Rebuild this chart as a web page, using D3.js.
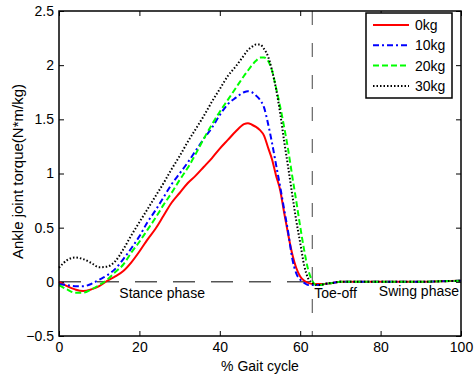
<!DOCTYPE html>
<html>
<head>
<meta charset="utf-8">
<script src="https://cdn.jsdelivr.net/npm/d3@7"></script>
<style>
    body { margin: 0; background: #fff; }
    text { font-family: "Liberation Sans", Arial, sans-serif; }
</style>
</head>
<body>
<script>
// % gait cycle sample points
var gaitPct = [0, 2, 4, 6, 8, 10, 12, 14, 16, 18, 20, 22, 24, 26, 28, 30, 32, 34, 36, 38, 40,
    42, 44, 46, 47, 48, 49, 50, 51, 52, 53, 54, 55, 56, 57, 58, 59, 60, 61, 62, 63, 64, 65, 66,
    68, 70, 75, 80, 85, 90, 95, 100];

var torque0kg = [0, -0.04, -0.07, -0.085, -0.07, -0.04, 0.01, 0.05, 0.10, 0.18, 0.28, 0.39, 0.49,
    0.61, 0.73, 0.82, 0.91, 0.98, 1.06, 1.14, 1.23, 1.31, 1.39, 1.455, 1.465, 1.45, 1.43, 1.40,
    1.35, 1.24, 1.13, 0.98, 0.85, 0.64, 0.44, 0.26, 0.13, 0.05, 0.01, -0.01, -0.02, -0.02, -0.02,
    -0.02, -0.01, 0, 0, 0, 0, 0, 0.005, 0.01];

var torque10kg = [-0.02, -0.03, -0.04, -0.04, -0.02, 0.02, 0.06, 0.12, 0.21, 0.31, 0.42, 0.55, 0.66,
    0.78, 0.90, 1.00, 1.10, 1.21, 1.32, 1.42, 1.54, 1.64, 1.70, 1.75, 1.76, 1.75, 1.72, 1.68,
    1.61, 1.46, 1.28, 1.08, 0.88, 0.67, 0.46, 0.22, 0.08, 0.02, -0.01, -0.03, -0.03, -0.03, -0.03,
    -0.02, -0.01, 0, 0, 0, 0, 0, 0.005, 0.01];

var torque20kg = [-0.03, -0.07, -0.10, -0.10, -0.07, -0.03, 0.02, 0.09, 0.16, 0.27, 0.37, 0.48, 0.59,
    0.71, 0.82, 0.94, 1.05, 1.18, 1.32, 1.45, 1.57, 1.68, 1.79, 1.90, 1.95, 2.00, 2.04, 2.07,
    2.07, 2.04, 1.95, 1.79, 1.62, 1.43, 1.22, 0.98, 0.75, 0.51, 0.29, 0.11, 0.01, -0.03, -0.03,
    -0.02, -0.01, 0, 0, 0, 0, 0, 0.005, 0.01];

var torque30kg = [0.13, 0.20, 0.225, 0.21, 0.175, 0.135, 0.14, 0.19, 0.30, 0.43, 0.55, 0.67, 0.79,
    0.91, 1.04, 1.16, 1.29, 1.41, 1.53, 1.66, 1.78, 1.90, 1.99, 2.09, 2.14, 2.17, 2.19, 2.19,
    2.15, 2.08, 1.95, 1.78, 1.56, 1.30, 1.06, 0.81, 0.57, 0.36, 0.15, 0.03, -0.01, -0.03, -0.03,
    -0.02, -0.01, 0, 0, 0, 0, 0, 0.005, 0.01];

var seriesNames = ["0kg", "10kg", "20kg", "30kg"];
var xTicks = [0, 20, 40, 60, 80, 100];
var yTicks = [-0.5, 0, 0.5, 1, 1.5, 2, 2.5];
var toeOff = 63;

var margin = {top: 11, right: 13, bottom: 40, left: 59};
var width = 474 - margin.left - margin.right;
var height = 376 - margin.top - margin.bottom;

var svg = d3.select("body")
    .append("svg")
    .attr("width", 474)
    .attr("height", 376)
    .append("g")
    .attr("transform", "translate(" + margin.left + "," + margin.top + ")");

var x = d3.scaleLinear().domain([0, 100]).range([0, width]);
var y = d3.scaleLinear().domain([-0.5, 2.5]).range([height, 0]);

// axes with inward ticks (all four sides)
svg.append("g")
    .attr("transform", "translate(0," + height + ")")
    .call(d3.axisBottom(x).tickValues(xTicks).tickSize(-5).tickPadding(6))
    .call(function (g) { g.select(".domain").remove(); });
svg.append("g")
    .call(d3.axisTop(x).tickValues(xTicks).tickSize(-5).tickFormat(""))
    .call(function (g) { g.select(".domain").remove(); });
svg.append("g")
    .call(d3.axisLeft(y).tickValues(yTicks).tickSize(-5).tickPadding(5).tickFormat(d3.format("")))
    .call(function (g) { g.select(".domain").remove(); });
svg.append("g")
    .attr("transform", "translate(" + width + ",0)")
    .call(d3.axisRight(y).tickValues(yTicks).tickSize(-5).tickFormat(""))
    .call(function (g) { g.select(".domain").remove(); });

svg.selectAll(".tick text")
    .style("font-size", "14px")
    .attr("fill", "#000");
svg.selectAll(".tick line").attr("stroke", "#000");

// reference lines
svg.append("line")
    .attr("x1", x(0)).attr("x2", x(toeOff))
    .attr("y1", y(0)).attr("y2", y(0))
    .attr("stroke", "#000")
    .attr("stroke-width", 1)
    .attr("stroke-dasharray", "22,16");

var series = [
    {name: seriesNames[0], values: torque0kg, color: "#ff0000", dash: null, w: 2},
    {name: seriesNames[1], values: torque10kg, color: "#0000ff", dash: "6,3,2,3", w: 2},
    {name: seriesNames[2], values: torque20kg, color: "#00ff00", dash: "6,3", w: 2},
    {name: seriesNames[3], values: torque30kg, color: "#000000", dash: "1.5,2", w: 2}
];

var line = d3.line()
    .x(function (d) { return x(d[0]); })
    .y(function (d) { return y(d[1]); })
    .curve(d3.curveMonotoneX);

svg.selectAll(".curve")
    .data(series)
    .enter()
    .append("path")
    .attr("class", "curve")
    .attr("fill", "none")
    .attr("stroke", function (d) { return d.color; })
    .attr("stroke-width", function (d) { return d.w; })
    .attr("stroke-dasharray", function (d) { return d.dash; })
    .attr("d", function (d) {
        return line(gaitPct.map(function (p, i) { return [p, d.values[i]]; }));
    });

svg.append("line")
    .attr("x1", x(toeOff)).attr("x2", x(toeOff))
    .attr("y1", 0).attr("y2", height)
    .attr("stroke", "#444")
    .attr("stroke-width", 1)
    .attr("stroke-dasharray", "14,18");

// frame
svg.append("rect")
    .attr("width", width)
    .attr("height", height)
    .attr("fill", "none")
    .attr("stroke", "#000")
    .attr("stroke-width", 1.5);

// phase labels
svg.append("text").attr("x", x(15)).attr("y", y(0) + 16)
    .style("font-size", "14px").text("Stance phase");
svg.append("text").attr("x", x(toeOff) + 2).attr("y", y(0) + 16)
    .style("font-size", "14px").text("Toe-off");
svg.append("text").attr("x", width - 2).attr("y", y(0) + 14)
    .attr("text-anchor", "end")
    .style("font-size", "14px").text("Swing phase");

// axis titles
svg.append("text")
    .attr("x", width / 2)
    .attr("y", height + 35)
    .attr("text-anchor", "middle")
    .style("font-size", "14px")
    .text("% Gait cycle");
svg.append("text")
    .attr("transform", "translate(-36," + (height / 2 - 2) + ") rotate(-90)")
    .attr("text-anchor", "middle")
    .style("font-size", "15px")
    .text("Ankle joint torque(N*m/kg)");

// legend
var legend = svg.append("g").attr("transform", "translate(" + (366 - margin.left) + "," + (13 - margin.top) + ")");
legend.append("rect")
    .attr("width", 86)
    .attr("height", 85)
    .attr("fill", "#fff")
    .attr("stroke", "#000")
    .attr("stroke-width", 1.5);
var items = legend.selectAll(".item")
    .data(series)
    .enter()
    .append("g")
    .attr("transform", function (d, i) { return "translate(0," + (12 + i * 20.3) + ")"; });
items.append("line")
    .attr("x1", 7).attr("x2", 43)
    .attr("stroke", function (d) { return d.color; })
    .attr("stroke-width", function (d) { return d.w; })
    .attr("stroke-dasharray", function (d) { return d.dash; });
items.append("text")
    .attr("x", 49)
    .attr("y", 5)
    .style("font-size", "14px")
    .text(function (d) { return d.name; });
</script>
</body>
</html>
